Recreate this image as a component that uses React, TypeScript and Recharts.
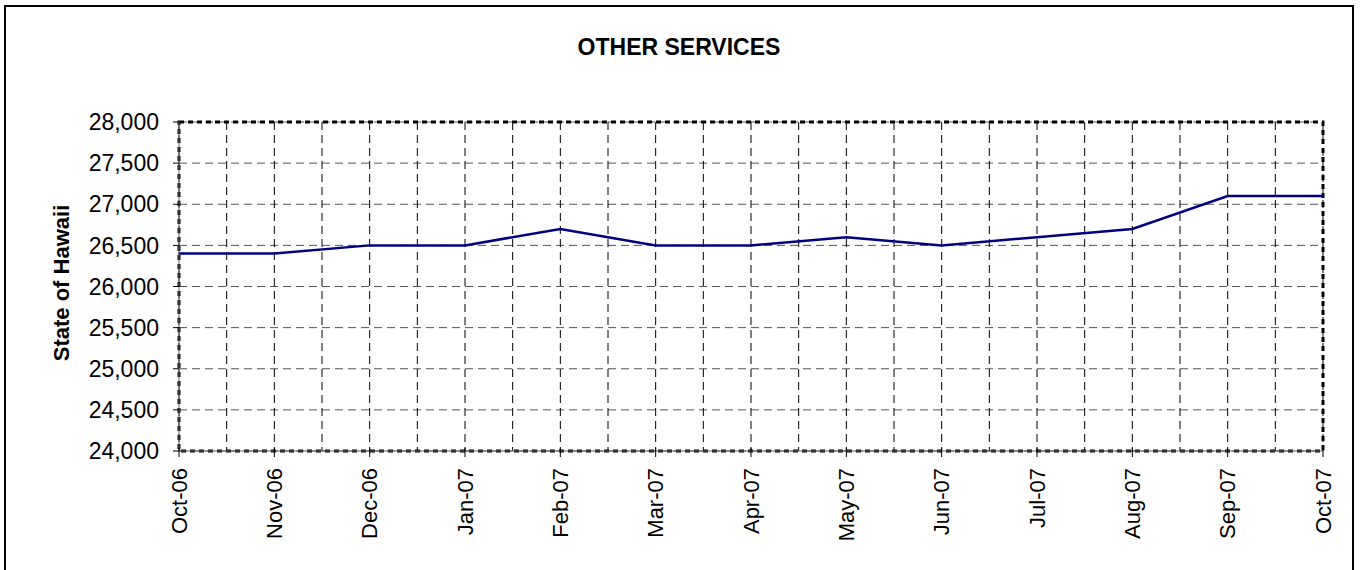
import React from 'react';
import { LineChart, Line, XAxis, YAxis, CartesianGrid, ReferenceArea } from 'recharts';

const months = ['Oct-06', 'Nov-06', 'Dec-06', 'Jan-07', 'Feb-07', 'Mar-07', 'Apr-07', 'May-07', 'Jun-07', 'Jul-07', 'Aug-07', 'Sep-07', 'Oct-07'];
const values = [26400, 26400, 26500, 26500, 26700, 26500, 26500, 26600, 26500, 26600, 26700, 27100, 27100];
const yTicks = [24000, 24500, 25000, 25500, 26000, 26500, 27000, 27500, 28000];

const data = months.map((m, i) => ({ idx: i, month: m, value: values[i] }));
// gridlines every half month, labels only on the months
const xTicks = months.flatMap((_, i) => (i === months.length - 1 ? [i] : [i, i + 0.5]));

const FONT = '"Liberation Sans", Arial, sans-serif';

const MonthTick = (props: any) => {
  const { x, y, payload } = props;
  const i = payload.value;
  if (!Number.isInteger(i)) return <g />;
  return (
    <g transform={`translate(${x},${y})`}>
      <line x1={0} x2={0} y1={-3} y2={6} stroke="#000" strokeWidth={1} />
      <text
        transform="translate(0,17) rotate(-90)"
        textAnchor="end"
        dy="0.35em"
        fontSize={22}
        fontFamily={FONT}
        fill="#000"
      >
        {months[i]}
      </text>
    </g>
  );
};

const fmt = (v: number) => v.toLocaleString('en-US');

export default function App() {
  return (
    <div
      style={{
        position: 'absolute',
        left: 4,
        top: 5,
        width: 1350,
        height: 575,
        border: '2px solid #000',
        boxSizing: 'border-box',
        background: '#fff',
        fontFamily: FONT,
      }}
    >
      <div
        style={{
          position: 'absolute',
          left: 0,
          top: 27,
          width: '100%',
          textAlign: 'center',
          fontSize: 23,
          lineHeight: '26px',
          fontWeight: 'bold',
        }}
      >
        OTHER SERVICES
      </div>
      <div
        style={{
          position: 'absolute',
          left: 56,
          top: 276,
          transform: 'translate(-50%, -50%) rotate(-90deg)',
          whiteSpace: 'nowrap',
          fontSize: 22,
          fontWeight: 'bold',
        }}
      >
        State of Hawaii
      </div>
      <LineChart width={1346} height={566} data={data} margin={{ top: 115, right: 29, left: 0, bottom: 0 }}>
        <CartesianGrid horizontal={true} vertical={false} stroke="#555" strokeDasharray="8 5" />
        <CartesianGrid horizontal={false} vertical={true} stroke="#000" strokeDasharray="8 5" />
        <XAxis
          dataKey="idx"
          type="number"
          domain={[0, months.length - 1]}
          ticks={xTicks}
          interval={0}
          height={122}
          tickSize={0}
          tickMargin={0}
          tickLine={false}
          axisLine={{ stroke: '#666' }}
          tick={<MonthTick />}
        />
        <YAxis
          domain={[24000, 28000]}
          ticks={yTicks}
          interval={0}
          width={173}
          tickSize={6}
          tickMargin={14}
          tickFormatter={fmt}
          axisLine={{ stroke: '#666' }}
          tickLine={{ stroke: '#000' }}
          tick={{ fontSize: 23, fontFamily: FONT, fill: '#000' }}
        />
        <ReferenceArea
          x1={0}
          x2={months.length - 1}
          y1={24000}
          y2={28000}
          fill="none"
          fillOpacity={0}
          stroke="#000"
          strokeWidth={3}
          strokeDasharray="5 4"
          ifOverflow="visible"
        />
        <Line
          type="linear"
          dataKey="value"
          stroke="#000080"
          strokeWidth={2.5}
          dot={false}
          isAnimationActive={false}
        />
      </LineChart>
    </div>
  );
}
